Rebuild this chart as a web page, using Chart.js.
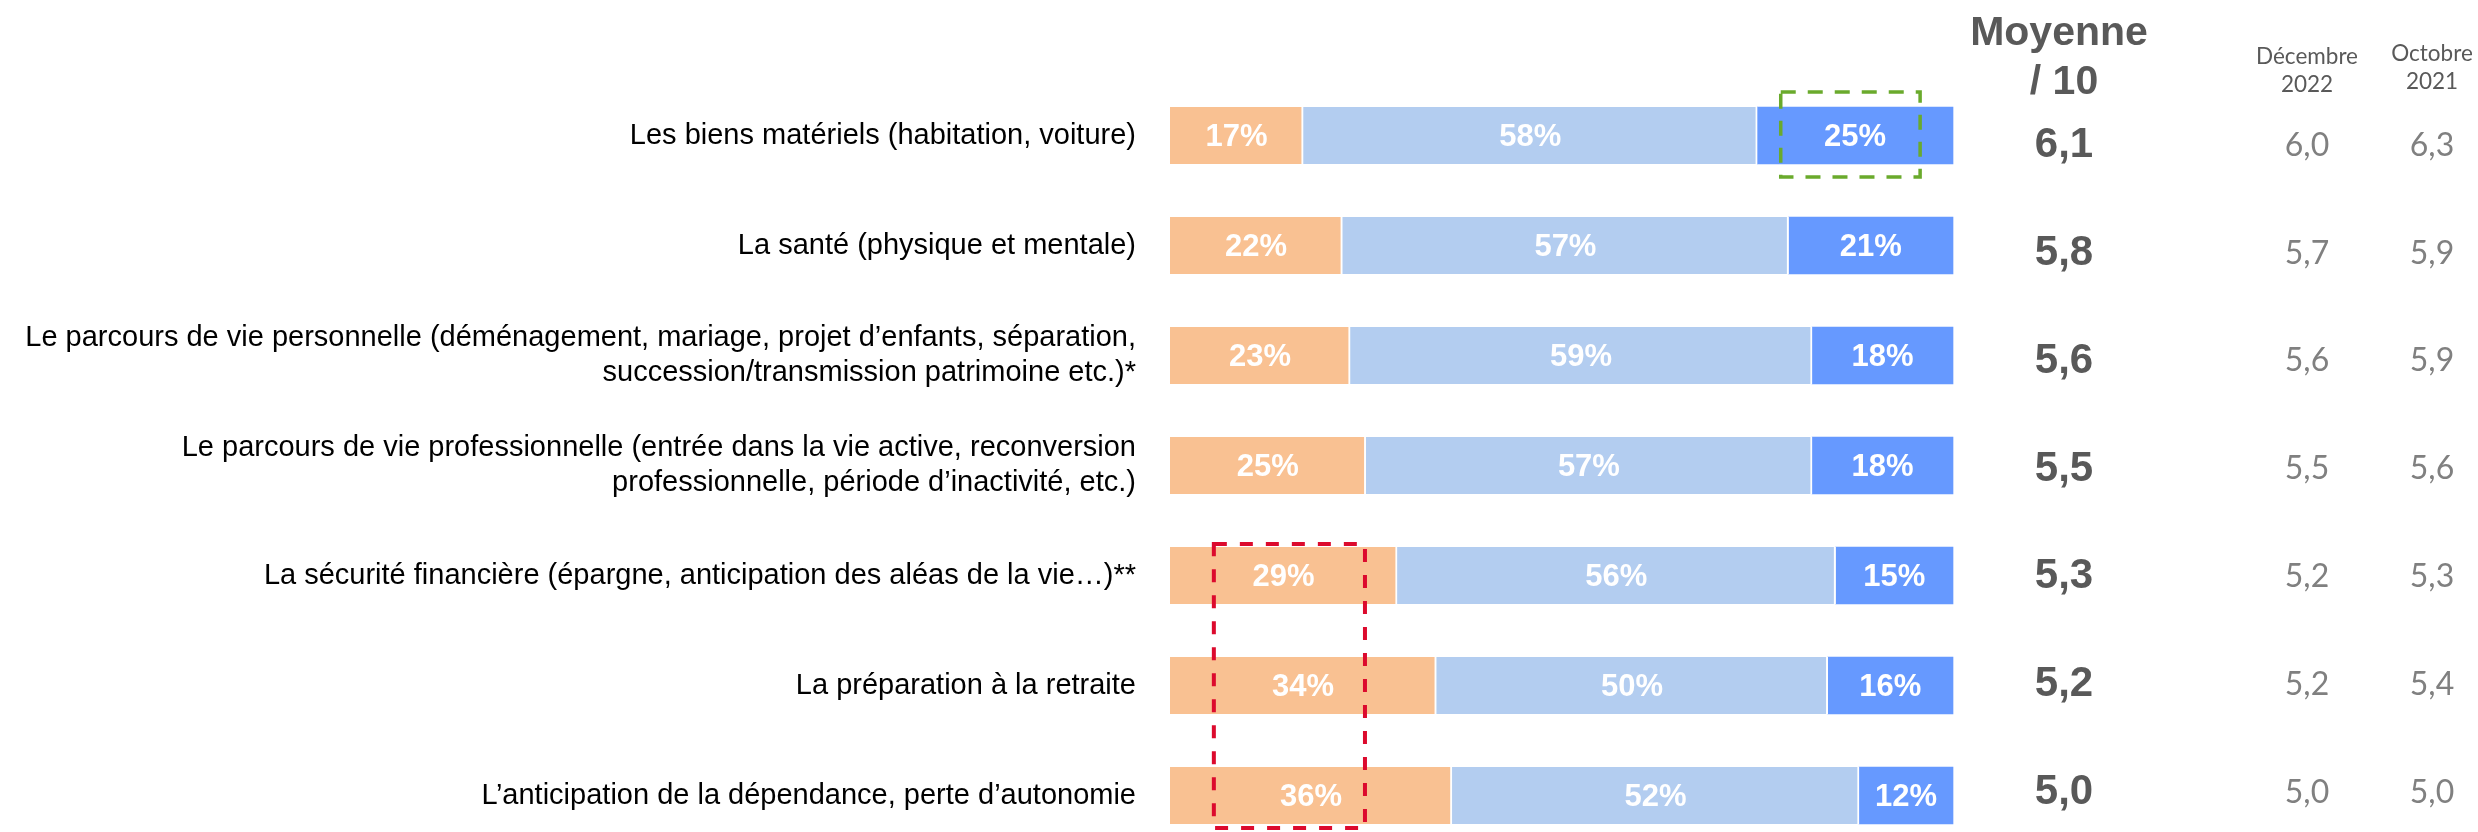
<!DOCTYPE html>
<html>
<head>
<meta charset="utf-8">
<script src="https://cdn.jsdelivr.net/npm/chart.js@4.4.1/dist/chart.umd.min.js"></script>
<style>
    html, body { margin: 0; padding: 0; background: #fff; }
</style>
</head>
<body>
<canvas id="myChart" width="2478" height="832"></canvas>
<script>
var categories = [
    "Les biens matériels (habitation, voiture)",
    "La santé (physique et mentale)",
    ["Le parcours de vie personnelle (déménagement, mariage, projet d’enfants, séparation,", "succession/transmission patrimoine etc.)*"],
    ["Le parcours de vie professionnelle (entrée dans la vie active, reconversion", "professionnelle, période d’inactivité, etc.)"],
    "La sécurité financière (épargne, anticipation des aléas de la vie…)**",
    "La préparation à la retraite",
    "L’anticipation de la dépendance, perte d’autonomie"
]
var lowShare = [17, 22, 23, 25, 29, 34, 36]
var midShare = [58, 57, 59, 57, 56, 50, 52]
var highShare = [25, 21, 18, 18, 15, 16, 12]

var moyenne = [6.1, 5.8, 5.6, 5.5, 5.3, 5.2, 5.0]
var dec2022 = [6.0, 5.7, 5.6, 5.5, 5.2, 5.2, 5.0]
var oct2021 = [6.3, 5.9, 5.9, 5.6, 5.3, 5.4, 5.0]

var arial = '"Liberation Sans", Arial, sans-serif'
var calibri = 'Lato, "Open Sans", sans-serif'

function fr(v) {
    return v.toFixed(1).replace(".", ",")
}

// white % labels inside each segment
var barLabels = {
    id: "barLabels",
    afterDatasetsDraw: function (chart) {
        var ctx = chart.ctx
        ctx.save()
        ctx.font = "bold 31px " + arial
        ctx.fillStyle = "#ffffff"
        ctx.textAlign = "center"
        ctx.textBaseline = "middle"
        chart.data.datasets.forEach(function (ds, d) {
            chart.getDatasetMeta(d).data.forEach(function (bar, i) {
                var p = bar.getCenterPoint()
                ctx.fillText(ds.data[i] + "%", p.x, p.y + 2)
            })
        })
        ctx.restore()
    }
}

// dashed highlight boxes, in value / row units
var boxes = [
    { rows: [0, 0], from: 78, to: 95.8, padTop: 15, padBottom: 13, color: "#6aaa2c", width: 3.5, dash: [15, 12] },
    { rows: [4, 6], from: 5.6, to: 24.9, padTop: 3, padBottom: 4, color: "#dc0a2d", width: 4, dash: [13, 13] }
]
var highlight = {
    id: "highlight",
    afterDraw: function (chart) {
        var ctx = chart.ctx, x = chart.scales.x, y = chart.scales.y
        var half = 57 / 2
        ctx.save()
        boxes.forEach(function (b) {
            var x0 = x.getPixelForValue(b.from), x1 = x.getPixelForValue(b.to)
            var y0 = y.getPixelForValue(b.rows[0]) - half - b.padTop
            var y1 = y.getPixelForValue(b.rows[1]) + half + b.padBottom
            ctx.strokeStyle = b.color
            ctx.lineWidth = b.width
            ctx.setLineDash(b.dash)
            ctx.strokeRect(x0, y0, x1 - x0, y1 - y0)
        })
        ctx.restore()
    }
}

// right-hand table: Moyenne / 10, Décembre 2022, Octobre 2021
var rightTable = {
    id: "rightTable",
    afterDraw: function (chart) {
        var ctx = chart.ctx, y = chart.scales.y, right = chart.chartArea.right
        var colMoy = right + 111, colDec = right + 354, colOct = right + 479
        var first = y.getPixelForValue(0) + 10
        var last = y.getPixelForValue(moyenne.length - 1) - 3
        var step = (last - first) / (moyenne.length - 1)
        ctx.save()
        ctx.textAlign = "center"
        ctx.textBaseline = "alphabetic"
        ctx.fillStyle = "#595959"
        ctx.font = "bold 41px " + arial
        ctx.fillText("Moyenne", colMoy - 5, 45)
        ctx.fillText("/ 10", colMoy, 94)
        ctx.fillStyle = "#595959"
        ctx.font = "22.5px " + calibri
        ctx.fillText("Décembre", colDec, 64)
        ctx.fillText("2022", colDec, 92)
        ctx.fillText("Octobre", colOct, 61)
        ctx.fillText("2021", colOct, 89)

        ctx.textBaseline = "middle"
        for (var i = 0; i < moyenne.length; i++) {
            var ty = first + step * i
            ctx.fillStyle = "#595959"
            ctx.font = "bold 42px " + arial
            ctx.fillText(fr(moyenne[i]), colMoy, ty)
            ctx.fillStyle = "#808080"
            ctx.font = "32px " + calibri
            ctx.fillText(fr(dec2022[i]), colDec, ty)
            ctx.fillText(fr(oct2021[i]), colOct, ty)
        }
        ctx.restore()
    }
}

new Chart("myChart", {
    type: "bar",
    data: {
        labels: categories,
        datasets: [{
            label: "low",
            data: lowShare,
            backgroundColor: "#f9c192",
            borderColor: "#ffffff",
            borderWidth: { top: 0, right: 2, bottom: 0, left: 0 }
        }, {
            label: "mid",
            data: midShare,
            backgroundColor: "#b3cdf0",
            borderColor: "#ffffff",
            borderWidth: { top: 0, right: 2, bottom: 0, left: 0 }
        }, {
            label: "high",
            data: highShare,
            backgroundColor: "#6699ff",
            borderWidth: 0
        }]
    },
    options: {
        indexAxis: "y",
        responsive: false,
        animation: false,
        devicePixelRatio: 1,
        layout: { padding: { left: 0, right: 525, top: 135.5, bottom: 36.5 } },
        datasets: { bar: { barThickness: 57, borderSkipped: false, clip: false } },
        scales: {
            x: { stacked: true, min: 0, max: 100, display: false },
            y: {
                stacked: true,
                offset: false,
                grid: { display: false, drawTicks: false },
                border: { display: false },
                ticks: {
                    color: "#000000",
                    autoSkip: false,
                    padding: 34,
                    font: { family: arial, size: 29, lineHeight: 1.2 }
                },
                afterFit: function (s) {
                    s.width = 1170
                    // labels may overflow the rows at the edges, layout padding already covers them
                    s.paddingTop = 0
                    s.paddingBottom = 0
                }
            }
        },
        plugins: {
            legend: { display: false },
            tooltip: { enabled: false }
        }
    },
    plugins: [barLabels, highlight, rightTable]
});
</script>
</body>
</html>
